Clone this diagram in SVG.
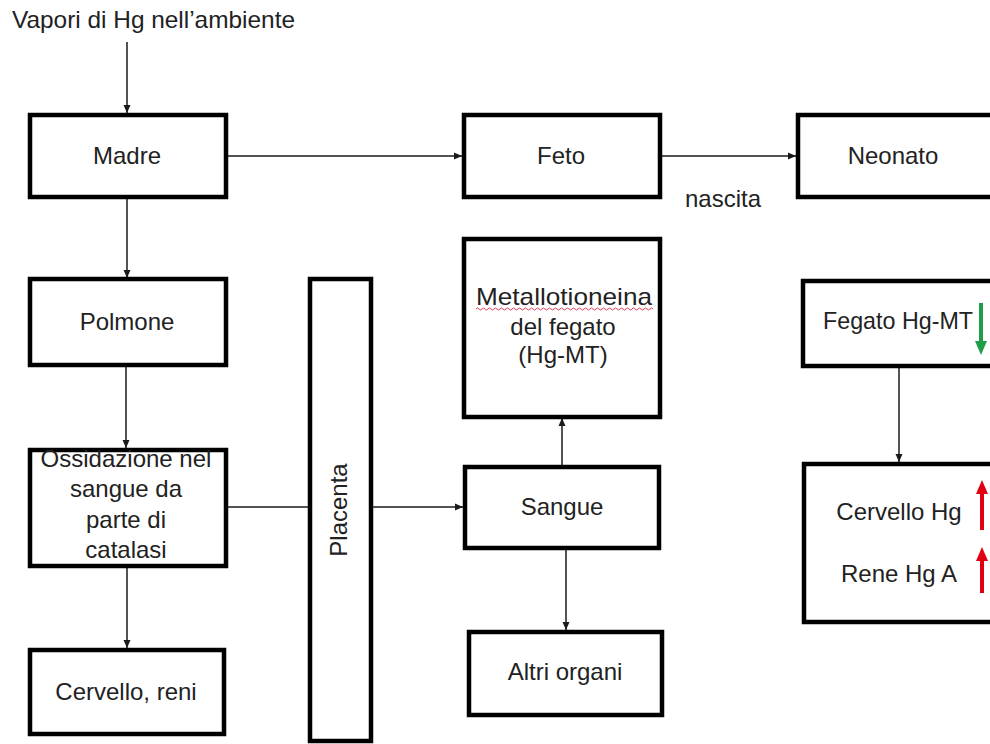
<svg xmlns="http://www.w3.org/2000/svg" width="990" height="744" viewBox="0 0 990 744">
<style>
text{font-family:"Liberation Sans",Arial,sans-serif;font-size:24px;fill:#222}
.c{text-anchor:middle}
.box{fill:#fff;stroke:#000;stroke-width:4.5}
.con{stroke:#1a1a1a;stroke-width:1.5;fill:none}
</style>
<defs>
<marker id="ah" markerUnits="userSpaceOnUse" markerWidth="8" markerHeight="8" refX="8" refY="4" orient="auto">
<path d="M0,0.5 L8,4 L0,7.5 Z" fill="#1a1a1a"/>
</marker>
</defs>
<rect width="990" height="744" fill="#fff"/>
<text x="12" y="28" textLength="283" lengthAdjust="spacingAndGlyphs">Vapori di Hg nell’ambiente</text>
<g id="connectors">
<line class="con" x1="127" y1="42" x2="127" y2="113" marker-end="url(#ah)"/>
<line class="con" x1="227" y1="156" x2="462" y2="156" marker-end="url(#ah)"/>
<line class="con" x1="660" y1="156" x2="796" y2="156" marker-end="url(#ah)"/>
<line class="con" x1="127" y1="197" x2="127" y2="278" marker-end="url(#ah)"/>
<line class="con" x1="126" y1="366" x2="126" y2="448" marker-end="url(#ah)"/>
<line class="con" x1="127" y1="567" x2="127" y2="648" marker-end="url(#ah)"/>
<line class="con" x1="227" y1="507" x2="308" y2="507"/>
<line class="con" x1="373" y1="507" x2="463" y2="507" marker-end="url(#ah)"/>
<line class="con" x1="562" y1="465" x2="562" y2="418" marker-end="url(#ah)"/>
<line class="con" x1="566" y1="549" x2="566" y2="630" marker-end="url(#ah)"/>
<line class="con" x1="899" y1="367" x2="899" y2="462" marker-end="url(#ah)"/>
</g>
<text class="c" x="723" y="207">nascita</text>
<g id="madre"><rect class="box" x="30" y="115" width="196" height="82"/><text class="c" x="127" y="164">Madre</text></g>
<g id="feto"><rect class="box" x="464" y="115" width="196" height="82"/><text class="c" x="561" y="164">Feto</text></g>
<g id="neonato"><rect class="box" x="798" y="115" width="196" height="82"/><text class="c" x="893" y="164">Neonato</text></g>
<g id="polmone"><rect class="box" x="30" y="279" width="196" height="86"/><text class="c" x="127" y="330">Polmone</text></g>
<g id="ossidazione"><rect class="box" x="30" y="450" width="196" height="116"/>
<text class="c" x="126" y="467">Ossidazione nel</text>
<text class="c" x="126" y="497">sangue da</text>
<text class="c" x="126" y="528">parte di</text>
<text class="c" x="126" y="558">catalasi</text></g>
<g id="cervello-reni"><rect class="box" x="30" y="650" width="194" height="84"/><text class="c" x="126" y="700">Cervello, reni</text></g>
<g id="placenta"><rect class="box" x="310" y="279" width="61" height="462"/><text class="c" transform="translate(347,510) rotate(-90)">Placenta</text></g>
<g id="metallotioneina"><rect class="box" x="464" y="239" width="196" height="178"/>
<text class="c" x="564" y="305" textLength="176" lengthAdjust="spacingAndGlyphs">Metallotioneina</text>
<path d="M476,309 q1.5,-2 3,0 t3,0 t3,0 t3,0 t3,0 t3,0 t3,0 t3,0 t3,0 t3,0 t3,0 t3,0 t3,0 t3,0 t3,0 t3,0 t3,0 t3,0 t3,0 t3,0 t3,0 t3,0 t3,0 t3,0 t3,0 t3,0 t3,0 t3,0 t3,0 t3,0 t3,0 t3,0 t3,0 t3,0 t3,0 t3,0 t3,0 t3,0 t3,0 t3,0 t3,0 t3,0 t3,0 t3,0 t3,0 t3,0 t3,0 t3,0 t3,0 t3,0 t3,0 t3,0 t3,0 t3,0 t3,0 t3,0 t3,0 t3,0 t3,0" fill="none" stroke="#e0405a" stroke-width="1"/>
<text class="c" x="563" y="335">del fegato</text>
<text class="c" x="563" y="363">(Hg-MT)</text></g>
<g id="sangue"><rect class="box" x="465" y="467" width="194" height="81"/><text class="c" x="562" y="515">Sangue</text></g>
<g id="altri-organi"><rect class="box" x="469" y="632" width="193" height="83"/><text class="c" x="565" y="680">Altri organi</text></g>
<g id="fegato-hg-mt"><rect class="box" x="803" y="281" width="196" height="85"/><text class="c" x="898" y="329" textLength="150" lengthAdjust="spacingAndGlyphs">Fegato Hg-MT</text>
<line x1="981" y1="303" x2="981" y2="342" stroke="#1e9e48" stroke-width="4"/>
<path d="M975,341 L987,341 L981,355 Z" fill="#1e9e48"/></g>
<g id="cervello-hg"><rect class="box" x="804" y="464" width="196" height="158"/>
<text class="c" x="899" y="520">Cervello Hg</text>
<text class="c" x="899" y="582">Rene Hg A</text>
<line x1="982" y1="492" x2="982" y2="530" stroke="#e00012" stroke-width="4"/>
<path d="M976,494 L988,494 L982,480 Z" fill="#e00012"/>
<line x1="982" y1="559" x2="982" y2="593" stroke="#e00012" stroke-width="4"/>
<path d="M976,561 L988,561 L982,547 Z" fill="#e00012"/></g>
</svg>
